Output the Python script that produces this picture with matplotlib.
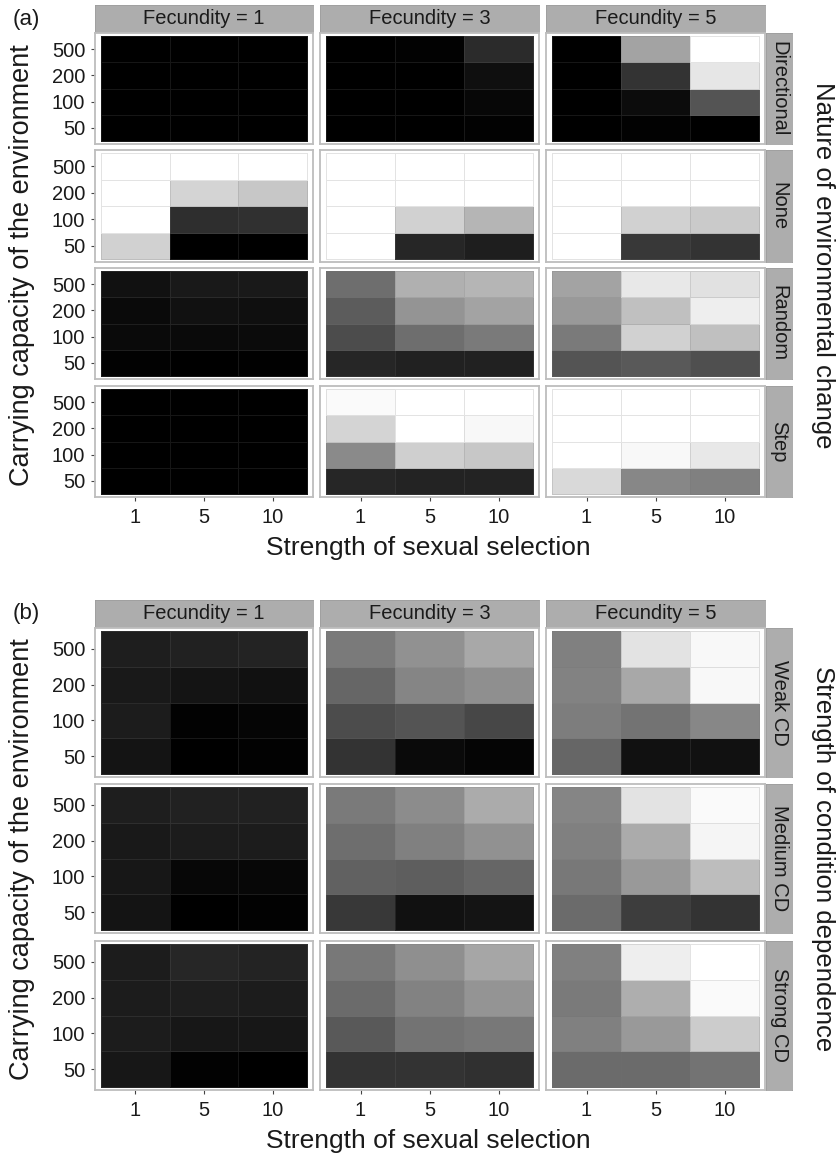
import numpy as np
import matplotlib
matplotlib.use("Agg")
import matplotlib.pyplot as plt

plt.rcParams['font.family'] = ['Liberation Sans', 'DejaVu Sans']

W, H = 836, 1156

FECUNDITY = ["Fecundity = 1", "Fecundity = 3", "Fecundity = 5"]
SEX_SEL = ["1", "5", "10"]
CAPACITY = ["500", "200", "100", "50"]  # top to bottom

# (a) nature of environmental change; each entry is [F1, F3, F5], rows 500..50, cols 1,5,10
ENV_LABELS = ["Directional", "None", "Random", "Step"]
directional = [
    [[0.0, 0.0, 0.0], [0.0, 0.0, 0.0], [0.0, 0.0, 0.0], [0.0, 0.0, 0.0]],
    [[0.0, 0.01, 0.17], [0.0, 0.0, 0.06], [0.0, 0.0, 0.03], [0.0, 0.0, 0.01]],
    [[0.0, 0.64, 1.0], [0.0, 0.2, 0.9], [0.0, 0.05, 0.33], [0.0, 0.01, 0.0]],
]
none = [
    [[1.0, 1.0, 1.0], [1.0, 0.83, 0.78], [1.0, 0.18, 0.19], [0.82, 0.0, 0.0]],
    [[1.0, 1.0, 1.0], [1.0, 1.0, 1.0], [1.0, 0.82, 0.71], [1.0, 0.15, 0.12]],
    [[1.0, 1.0, 1.0], [1.0, 1.0, 1.0], [1.0, 0.82, 0.79], [1.0, 0.22, 0.2]],
]
random_env = [
    [[0.07, 0.1, 0.1], [0.04, 0.07, 0.06], [0.04, 0.04, 0.045], [0.01, 0.0, 0.005]],
    [[0.43, 0.69, 0.71], [0.36, 0.58, 0.64], [0.3, 0.43, 0.48], [0.15, 0.13, 0.13]],
    [[0.64, 0.91, 0.88], [0.6, 0.75, 0.93], [0.48, 0.82, 0.75], [0.33, 0.35, 0.31]],
]
step = [
    [[0.0, 0.0, 0.0], [0.0, 0.0, 0.0], [0.0, 0.0, 0.0], [0.0, 0.0, 0.0]],
    [[0.98, 1.0, 1.0], [0.83, 1.0, 0.97], [0.54, 0.81, 0.78], [0.15, 0.14, 0.14]],
    [[1.0, 1.0, 1.0], [1.0, 1.0, 1.0], [1.0, 0.97, 0.91], [0.85, 0.53, 0.5]],
]

# (b) strength of condition dependence
CD_LABELS = ["Weak CD", "Medium CD", "Strong CD"]
weak_cd = [
    [[0.12, 0.13, 0.14], [0.1, 0.08, 0.07], [0.11, 0.01, 0.02], [0.08, 0.0, 0.01]],
    [[0.48, 0.57, 0.66], [0.4, 0.52, 0.56], [0.3, 0.33, 0.28], [0.2, 0.04, 0.02]],
    [[0.5, 0.89, 0.97], [0.51, 0.66, 0.97], [0.49, 0.45, 0.53], [0.4, 0.07, 0.07]],
]
medium_cd = [
    [[0.12, 0.13, 0.13], [0.1, 0.11, 0.11], [0.09, 0.03, 0.03], [0.08, 0.0, 0.01]],
    [[0.48, 0.55, 0.67], [0.43, 0.5, 0.57], [0.38, 0.37, 0.4], [0.22, 0.07, 0.08]],
    [[0.52, 0.89, 0.98], [0.5, 0.67, 0.96], [0.47, 0.6, 0.74], [0.42, 0.24, 0.2]],
]
strong_cd = [
    [[0.11, 0.15, 0.14], [0.11, 0.12, 0.11], [0.11, 0.09, 0.09], [0.09, 0.01, 0.0]],
    [[0.47, 0.56, 0.65], [0.42, 0.51, 0.58], [0.35, 0.45, 0.47], [0.2, 0.2, 0.19]],
    [[0.5, 0.93, 1.0], [0.48, 0.68, 0.98], [0.5, 0.6, 0.8], [0.42, 0.42, 0.45]],
]

TXT = '#1a1a1a'
STRIP = '#adadad'
FRAME = '#bdbdbd'

COLS_X = [(95, 313), (320, 539), (546, 765)]
RSTRIP_X = (766, 792)


def px_axes(fig, x0, y0, x1, y1):
    return fig.add_axes([x0 / W, 1 - y1 / H, (x1 - x0) / W, (y1 - y0) / H])


def heat(ax, vals, box, left, bottom):
    x0, y0, x1, y1 = box
    cw = (x1 - x0 - 12) / 3.0
    ch = (y1 - y0 - 6) / 4.0
    v = np.flipud(np.array(vals))
    ax.pcolormesh(np.arange(4) - 0.5, np.arange(5) - 0.5, v, cmap='gray',
                  vmin=0, vmax=1, edgecolors=(0.45, 0.45, 0.45, 0.2),
                  linewidth=0.6)
    ax.set_xlim(-0.5 - 6 / cw, 2.5 + 6 / cw)
    ax.set_ylim(-0.5 - 3 / ch, 3.5 + 3 / ch)
    for s in ax.spines.values():
        s.set_color(FRAME)
        s.set_linewidth(1.3)
    ax.set_xticks(range(3))
    ax.set_yticks(range(4))
    ax.set_xticklabels(SEX_SEL if bottom else [])
    ax.set_yticklabels(CAPACITY[::-1] if left else [])
    ax.tick_params(axis='x', length=3 if bottom else 0, width=0.8,
                   color='#444444', labelsize=14.5, labelcolor=TXT, pad=5)
    ax.tick_params(axis='y', length=3 if left else 0, width=0.8,
                   color='#444444', labelsize=14.5, labelcolor=TXT, pad=4)


def strip(fig, box, label, rot=0):
    ax = px_axes(fig, *box)
    ax.set_facecolor(STRIP)
    ax.set_xticks([])
    ax.set_yticks([])
    for s in ax.spines.values():
        s.set_color('#9e9e9e')
        s.set_linewidth(0.6)
    ax.text(0.5, 0.5, label, transform=ax.transAxes, ha='center',
            va='center', rotation=rot, fontsize=14.5, color=TXT)


def block(fig, datasets, labels, rows_y, strip_y, tag, rlabel):
    nrow = len(rows_y)
    for c, (cx0, cx1) in enumerate(COLS_X):
        strip(fig, (cx0, strip_y[0], cx1, strip_y[1]), FECUNDITY[c])
        for r, (ry0, ry1) in enumerate(rows_y):
            box = (cx0, ry0, cx1, ry1)
            ax = px_axes(fig, *box)
            heat(ax, datasets[r][c], box, c == 0, r == nrow - 1)
    for r, (ry0, ry1) in enumerate(rows_y):
        strip(fig, (RSTRIP_X[0], ry0, RSTRIP_X[1], ry1), labels[r], rot=-90)

    top, bot = rows_y[0][0], rows_y[-1][1]
    fig.text(13 / W, 1 - (strip_y[0] + 14) / H, tag, fontsize=16,
             color=TXT, ha='left', va='center')
    fig.text(22 / W, 1 - (top + bot) / 2 / H,
             "Carrying capacity of the environment", rotation=90,
             fontsize=19.5, color=TXT, ha='center', va='center')
    fig.text(823 / W, 1 - (top + bot) / 2 / H, rlabel, rotation=-90,
             fontsize=18.5, color=TXT, ha='center', va='center')
    fig.text(428 / W, 1 - (bot + 51) / H, "Strength of sexual selection",
             fontsize=19, color=TXT, ha='center', va='center')


fig = plt.figure(figsize=(W / 100, H / 100), dpi=100)

block(fig, [directional, none, random_env, step], ENV_LABELS,
      [(33, 144), (150, 262), (268, 379), (386, 497)], (5, 32), "(a)",
      "Nature of environmental change")
block(fig, [weak_cd, medium_cd, strong_cd], CD_LABELS,
      [(628, 777), (784, 933), (941, 1090)], (600, 627), "(b)",
      "Strength of condition dependence")

fig.savefig("out.png", dpi=100)
